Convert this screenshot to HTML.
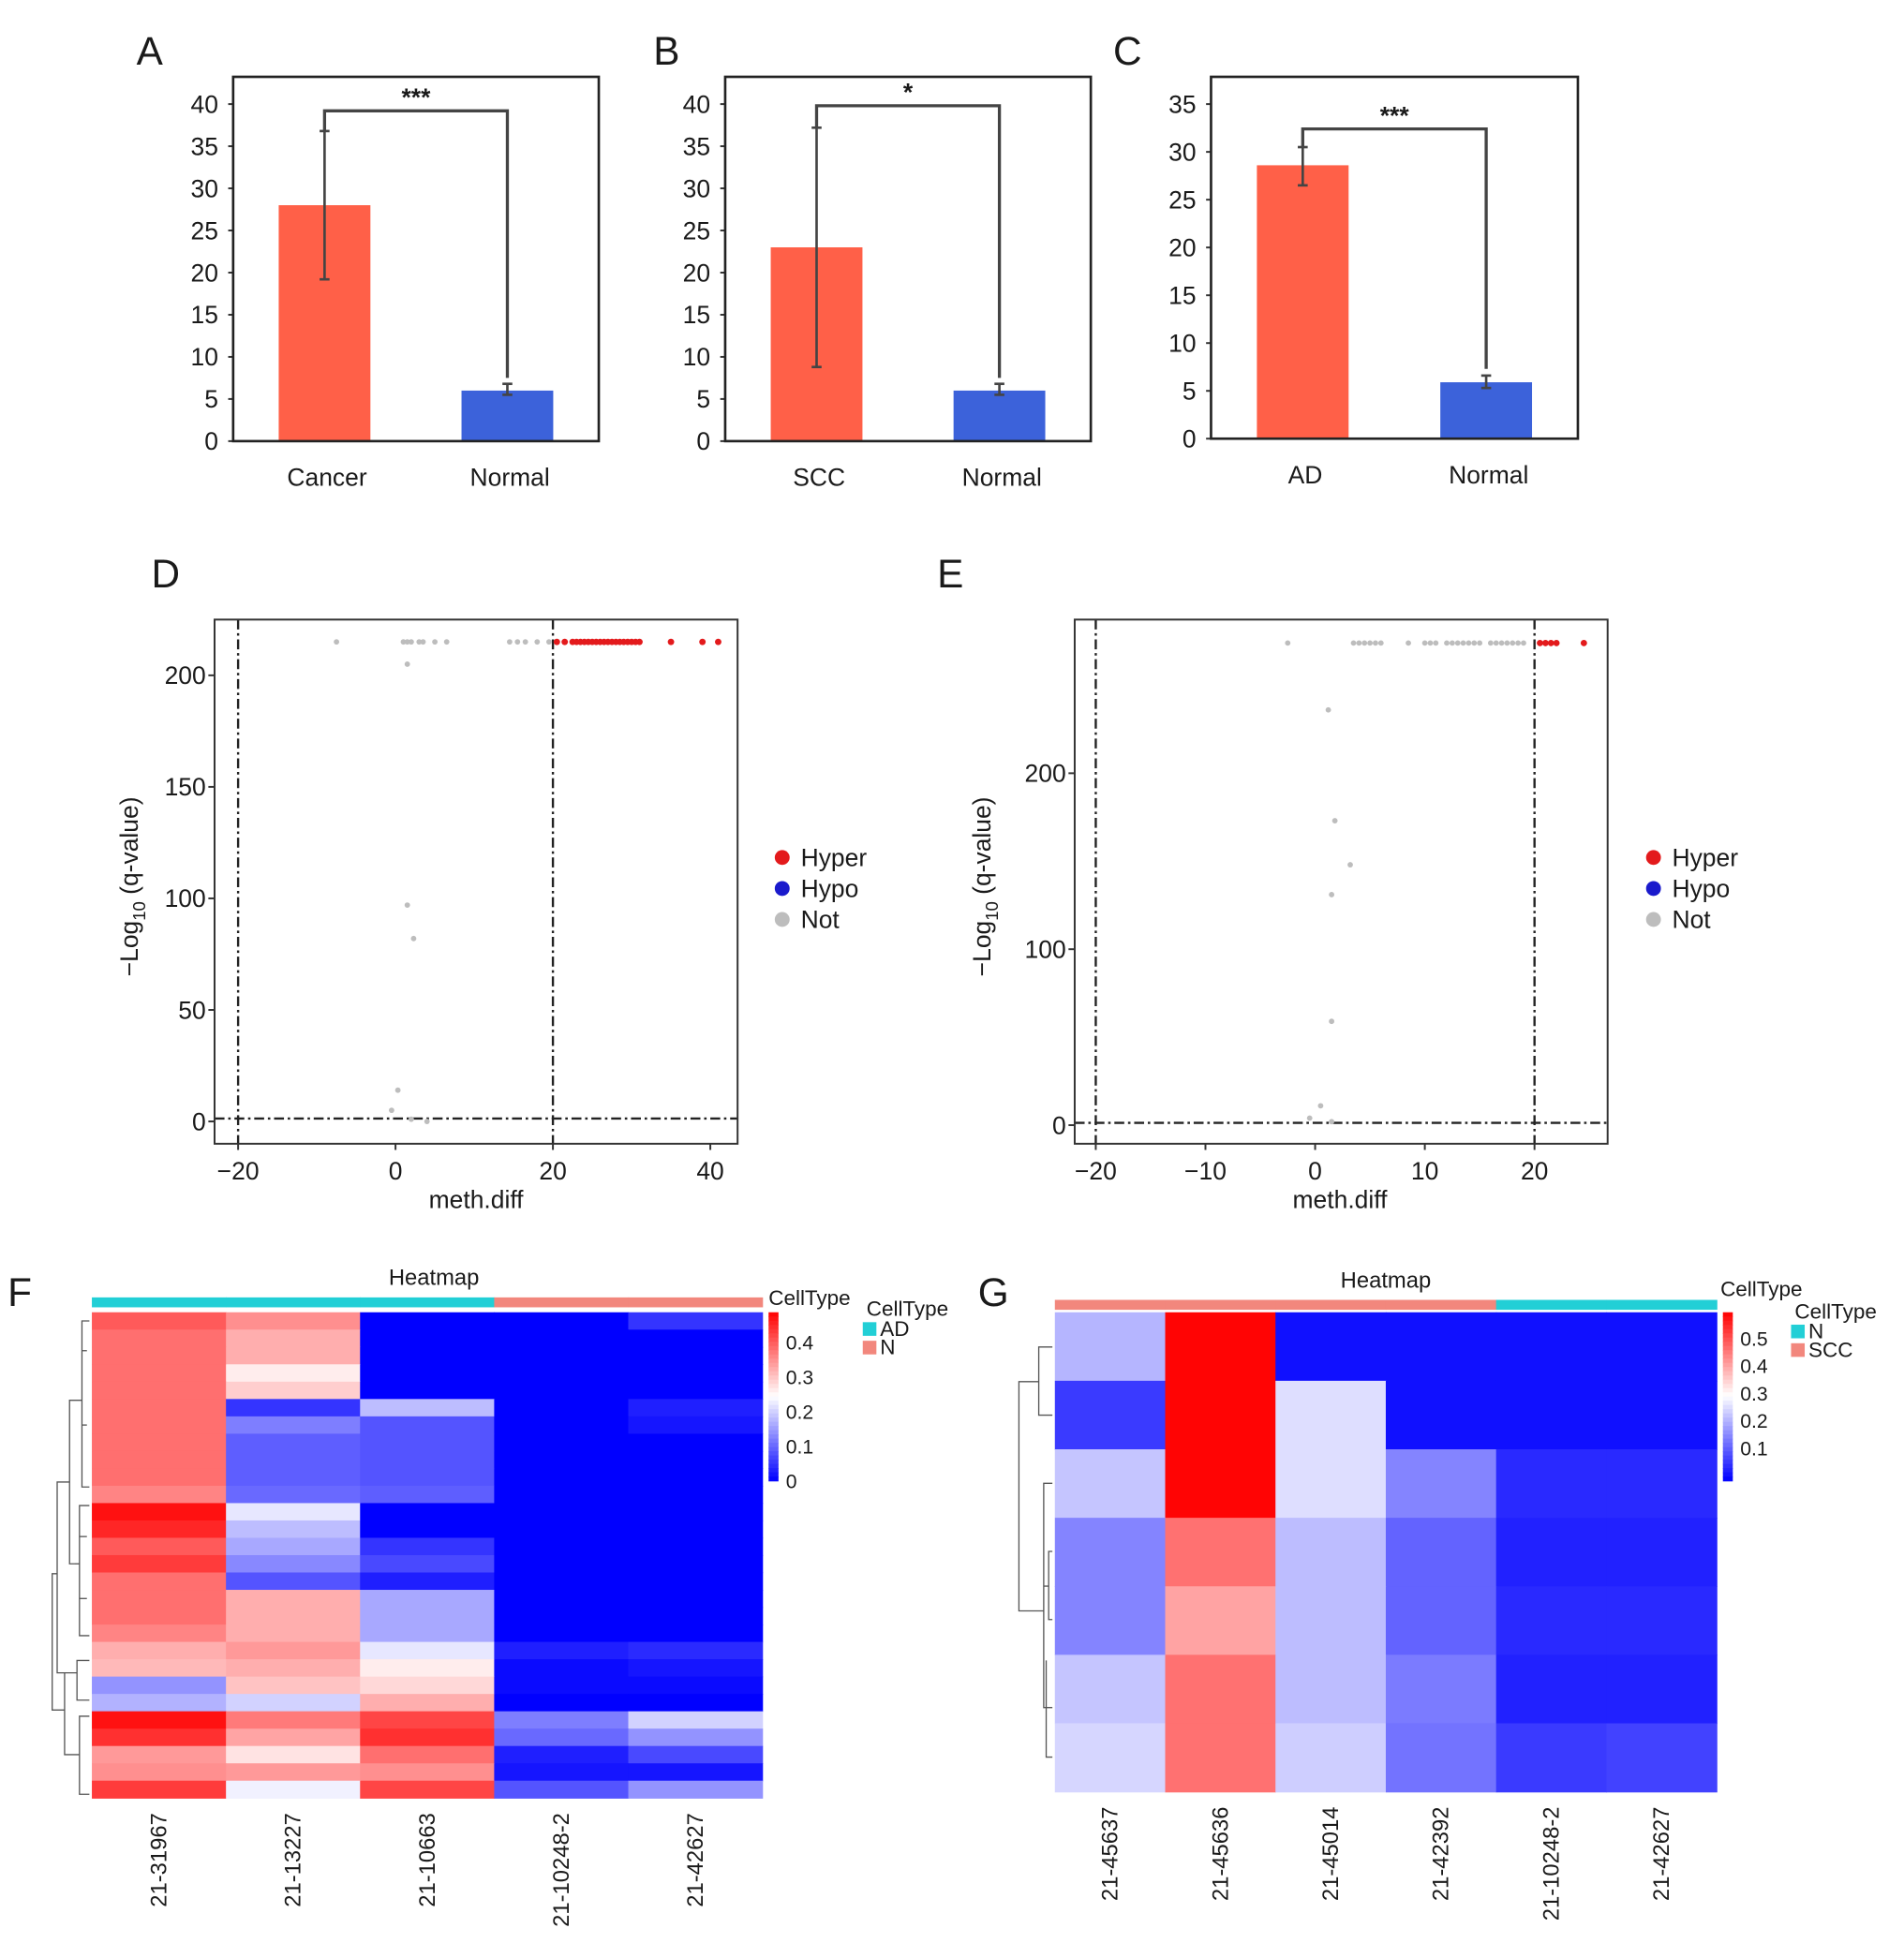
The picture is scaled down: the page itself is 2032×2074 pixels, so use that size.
<!DOCTYPE html>
<html><head><meta charset="utf-8"><style>
html,body{margin:0;padding:0;background:#fff;}
svg{display:block;font-family:"Liberation Sans",Arial,sans-serif;}
</style></head><body>
<svg id="fig" width="2032" height="2074" viewBox="0 0 1536 1568" xmlns="http://www.w3.org/2000/svg"></svg>
<script>
// ---------- data ----------
const barCatsA = ["Cancer","Normal"];
const barValsA = [28, 6];
const barErrLoA = [19.2, 5.5];
const barErrHiA = [36.8, 6.8];
const barCatsB = ["SCC","Normal"];
const barValsB = [23, 6];
const barErrLoB = [8.8, 5.5];
const barErrHiB = [37.2, 6.8];
const barCatsC = ["AD","Normal"];
const barValsC = [28.6, 5.9];
const barErrLoC = [26.5, 5.3];
const barErrHiC = [30.5, 6.6];
const ticksAB = [0,5,10,15,20,25,30,35,40];
const ticksC = [0,5,10,15,20,25,30,35];

const volDX = [-7.5,1,1.5,2,3,3.5,5,6.5,14.5,15.5,16.5,18,19.5,1.5,1.5,2.3,0.3,-0.5,2,4];
const volDY = [215,215,215,215,215,215,215,215,215,215,215,215,215,205,97,82,14,5,1,0];
const volDRedX = [20.5,21.5,22.5,23,23.5,24,24.5,25,25.5,26,26.5,27,27.5,28,28.5,29,29.5,30,30.5,31,35,39,41];
const volDRedY = [215,215,215,215,215,215,215,215,215,215,215,215,215,215,215,215,215,215,215,215,215,215,215];
const volDXTicks = [-20,0,20,40];
const volDYTicks = [0,50,100,150,200];

const volEX = [-2.5,3.5,4,4.5,5,5.5,6,8.5,10,10.5,11,12,12.5,13,13.5,14,14.5,15,16,16.5,17,17.5,18,18.5,19,1.2,1.8,3.2,1.5,1.5,0.5,-0.5,1.5];
const volEY = [274,274,274,274,274,274,274,274,274,274,274,274,274,274,274,274,274,274,274,274,274,274,274,274,274,236,173,148,131,59,11,4,2];
const volERedX = [20.5,21,21.5,22,24.5];
const volERedY = [274,274,274,274,274];
const volEXTicks = [-20,-10,0,10,20];
const volEYTicks = [0,100,200];

const heatFCols = ["21-31967","21-13227","21-10663","21-10248-2","21-42627"];
const heatFGroups = ["AD","AD","AD","N","N"];
const heatFVals = [
[0.40,0.35,0,0,0.05],[0.38,0.32,0,0,0],[0.38,0.32,0,0,0],[0.38,0.26,0,0,0],[0.38,0.29,0,0,0],
[0.38,0.05,0.18,0,0.03],[0.38,0.12,0.08,0,0.02],[0.38,0.09,0.08,0,0],[0.38,0.09,0.08,0,0],[0.38,0.09,0.08,0,0],
[0.36,0.10,0.09,0,0],[0.47,0.22,0,0,0],[0.45,0.18,0,0,0],[0.40,0.16,0.05,0,0],[0.43,0.13,0.07,0,0],
[0.38,0.08,0.03,0,0],[0.38,0.32,0.16,0,0],[0.38,0.32,0.16,0,0],[0.36,0.32,0.16,0,0],[0.32,0.34,0.22,0.03,0.04],
[0.31,0.32,0.26,0.01,0.02],[0.14,0.30,0.28,0.01,0.01],[0.17,0.20,0.32,0,0],[0.47,0.37,0.42,0.12,0.20],
[0.44,0.33,0.44,0.10,0.14],[0.34,0.27,0.38,0.03,0.07],[0.35,0.34,0.35,0.02,0.02],[0.43,0.23,0.42,0.08,0.14]];
const heatFTicks = [0,0.1,0.2,0.3,0.4];

const heatGCols = ["21-45637","21-45636","21-45014","21-42392","21-10248-2","21-42627"];
const heatGGroups = ["SCC","SCC","SCC","SCC","N","N"];
const heatGVals = [
[0.20,0.59,0,0,0,0],[0.05,0.59,0.25,0,0,0],[0.22,0.59,0.25,0.14,0.03,0.03],
[0.14,0.46,0.21,0.10,0.02,0.02],[0.14,0.40,0.21,0.10,0.03,0.03],[0.22,0.46,0.21,0.13,0.02,0.02],
[0.24,0.46,0.23,0.12,0.05,0.06]];
const heatGTicks = [0.1,0.2,0.3,0.4,0.5];

// ---------- helpers ----------
const svg = document.getElementById('fig');
const NS = "http://www.w3.org/2000/svg";
function mk(tag, attrs, parent){ const e=document.createElementNS(NS,tag); for(const k in attrs) e.setAttribute(k,attrs[k]); (parent||svg).appendChild(e); return e; }
function txt(x,y,s,size,anchor,parent,extra){ const t=mk('text',Object.assign({x:x,y:y,'font-size':size,'text-anchor':anchor||'start',fill:'#1a1a1a'},extra||{}),parent); t.textContent=s; return t; }
const RED="#FF6048", BLUE="#3C62DA", TEAL="#22CFD6", SALMON="#F2877D";

function letter(x,y,s){ const t=txt(x,y,s,32,'start');   }

function barPanel(id,L,R,T,B,ymax,ticks,cats,vals,lo,hi,brY,stars){
  const g=mk('g',{});
  
  
  const y0=B, yTop=84; const scale=(B-yTop)/ymax;
  const ys=v=>y0-v*scale;
  const centers=[L+(R-L)*0.25, L+(R-L)*0.75];
  const bw=74;
  vals.forEach((v,i)=>{
    const r=mk('rect',{x:centers[i]-bw/2,y:ys(v),width:bw,height:ys(0)-ys(v),fill:i===0?RED:BLUE},g);
    
    
    const e=mk('g',{stroke:'#444','stroke-width':2},g);
    
    
    mk('line',{x1:centers[i],x2:centers[i],y1:ys(lo[i]),y2:ys(hi[i])},e);
    mk('line',{x1:centers[i]-4,x2:centers[i]+4,y1:ys(lo[i]),y2:ys(lo[i])},e);
    mk('line',{x1:centers[i]-4,x2:centers[i]+4,y1:ys(hi[i]),y2:ys(hi[i])},e);
    const lab=txt(centers[i]+2,B+36,cats[i],20,'middle',g);
    
    
  });
  const br=mk('polyline',{points:`${centers[0]},${ys(hi[0])} ${centers[0]},${ys(brY)} ${centers[1]},${ys(brY)} ${centers[1]},${ys(hi[1]+0.7)}`,fill:'none',stroke:'#444','stroke-width':2.5},g);
  
  
  const st=txt((centers[0]+centers[1])/2,ys(brY)-4,stars,20,'middle',g,{'font-weight':'bold'});
  
  
  ticks.forEach(t=>{
    mk('line',{x1:L-4,x2:L,y1:ys(t),y2:ys(t),stroke:'#333','stroke-width':1.5},g);
    const tl=txt(L-12,ys(t)+7,String(t),20,'end',g);
    
    
  });
  const fr=mk('rect',{x:L,y:T,width:R-L,height:B-T,fill:'none',stroke:'#222','stroke-width':2},g);
  
  
}

letter(110,52,'A'); letter(527,52,'B'); letter(898,52,'C');
barPanel('a',188,483,62,356,40,ticksAB,barCatsA,barValsA,barErrLoA,barErrHiA,39.2,'***');
barPanel('b',585,880,62,356,40,ticksAB,barCatsB,barValsB,barErrLoB,barErrHiB,39.8,'*');
barPanel('c',977,1273,62,354,35,ticksC,barCatsC,barValsC,barErrLoC,barErrHiC,32.4,'***');

function volcano(id,L,R,T,B,xs,ys,xT,yT,gx,gy,rx,ry,legX){
  const g=mk('g',{});
  
  
  const dash={stroke:'#222','stroke-width':1.8,'stroke-dasharray':'8,3,2,3',fill:'none'};
  [-20,20].forEach(v=>{ const l=mk('line',Object.assign({x1:xs(v),x2:xs(v),y1:T,y2:B},dash),g);   });
  const h=mk('line',Object.assign({x1:L,x2:R,y1:ys(1.3),y2:ys(1.3)},dash),g);
   
  gx.forEach((x,i)=>{ const c=mk('circle',{cx:xs(x),cy:ys(gy[i]),r:2.2,fill:'#BDBDBD'},g);   });
  rx.forEach((x,i)=>{ const c=mk('circle',{cx:xs(x),cy:ys(ry[i]),r:2.6,fill:'#E31A1C'},g);   });
  const fr=mk('rect',{x:L,y:T,width:R-L,height:B-T,fill:'none',stroke:'#333','stroke-width':1.5},g);
   
  xT.forEach(t=>{ mk('line',{x1:xs(t),x2:xs(t),y1:B,y2:B+5,stroke:'#333','stroke-width':1.5},g);
    const tl=txt(xs(t),B+29,t<0?'\u2212'+(-t):String(t),20,'middle',g);   });
  yT.forEach(t=>{ mk('line',{x1:L-5,x2:L,y1:ys(t),y2:ys(t),stroke:'#333','stroke-width':1.5},g);
    const tl=txt(L-7,ys(t)+7,String(t),20,'end',g);   });
  const xt=txt((L+R)/2-(id==='d'?0:1),B+52,'meth.diff',20,'middle',g);  
  const yx=L-(id==='d'?62:68), yc=(T+B)/2+4;
  const yt=mk('text',{x:yx,y:yc,'font-size':20,'text-anchor':'middle',fill:'#1a1a1a',transform:`rotate(-90 ${yx} ${yc})`},g);
  yt.innerHTML='\u2212Log<tspan font-size="14" dy="6">10</tspan><tspan dy="-6"> (q-value)</tspan>';
   
  const lg=mk('g',{},g);  
  [['Hyper','#E31A1C'],['Hypo','#1A1ACC'],['Not','#BDBDBD']].forEach((e,i)=>{
    const eg=mk('g',{},lg);  
    mk('circle',{cx:legX,cy:692+i*25,r:6,fill:e[1]},eg);
    txt(legX+15,699+i*25,e[0],20,'start',eg);
  });
}
letter(122,474,'D'); letter(756,474,'E');
volcano('d',173,595,500,923,v=>319+v*6.35,v=>905-v*1.8,volDXTicks,volDYTicks,volDX,volDY,volDRedX,volDRedY,631);
volcano('e',867,1297,500,923,v=>1061+v*8.85,v=>908-v*1.42,volEXTicks,volEYTicks,volEX,volEY,volERedX,volERedY,1334);

function cmap(v,lo,mid,hi){
  let r,g,b;
  if(v<=mid){ const t=Math.max(0,(v-lo)/(mid-lo)); r=Math.round(255*t); g=Math.round(255*t); b=255; }
  else { const t=Math.min(1,(v-mid)/(hi-mid)); r=255; g=Math.round(255*(1-t)); b=Math.round(255*(1-t)); }
  return `rgb(${r},${g},${b})`;
}

function heatmap(id,L,R,T,B,cols,groups,vals,lo,mid,hi,ticks,annY,cbX,title,titleX,legItems,legX,legY,ctX,ctY){
  const g=mk('g',{});  
  const cw=(R-L)/cols.length, rh=(B-T)/vals.length;
  vals.forEach((row,ri)=>row.forEach((v,ci)=>{
    const c=mk('rect',{x:L+ci*cw,y:T+ri*rh,width:cw+0.5,height:rh+0.5,fill:cmap(v,lo,mid,hi)},g);
     
  }));
  groups.forEach((gr,ci)=>{ const a=mk('rect',{x:L+ci*cw,y:annY,width:cw+0.5,height:8,fill:(gr==='N'&&id==='f')||(gr==='SCC')?SALMON:TEAL},g);
      });
  const tt=txt(titleX,annY-10,title,18,'middle',g);  
  cols.forEach((c,ci)=>{ const cx=L+ci*cw+cw/2+6, cy=B+12;
    const t=mk('text',{x:cx,y:cy,'font-size':18,'text-anchor':'end',fill:'#1a1a1a',transform:`rotate(-90 ${cx} ${cy})`},g);
    t.textContent=c;   });
  // colorbar
  const cb=mk('g',{},g);  
  const cT=1059,cB=1195,n=40;
  for(let i=0;i<n;i++){ const v=hi-(hi-lo)*(i+0.5)/n; mk('rect',{x:cbX,y:cT+i*(cB-cT)/n,width:8,height:(cB-cT)/n+0.5,fill:cmap(v,lo,mid,hi)},cb); }
  ticks.forEach(t=>{ const y=cB-(t-lo)/(hi-lo)*(cB-cT); const tl=txt(cbX+14,y+6,String(t),16,'start',cb);   });
  const c1=txt(ctX,ctY,'CellType',17,'start',g);  
  const lg=mk('g',{},g);  
  txt(legX+3,legY,'CellType',17,'start',lg);
  legItems.forEach((it,i)=>{ const e=mk('g',{},lg);  
    mk('rect',{x:legX,y:legY+5+i*15,width:11,height:11,fill:it[1]},e); txt(legX+14,legY+16+i*15,it[0],17,'start',e); });
}
letter(6,1054,'F'); letter(789,1054,'G');
heatmap('f',74,615,1059,1451,heatFCols,heatFGroups,heatFVals,0,0.243,0.486,heatFTicks,1047,620,'Heatmap',350,[['AD',TEAL],['N',SALMON]],696,1062,620,1053);
heatmap('g',851,1385,1059,1446,heatGCols,heatGGroups,heatGVals,-0.02,0.29,0.595,heatGTicks,1049,1390,'Heatmap',1118,[['N',TEAL],['SCC',SALMON]],1445,1064,1388,1046);

// dendrograms
function dend(id,lines){
  const g=mk('g',{fill:'none',stroke:'#555','stroke-width':1});  
  lines.forEach(p=>mk('polyline',{points:p},g));
}
dend('f',["72,1066 66,1066 66,1200 72,1200","66,1130 56,1130 56,1262 60,1262","72,1215 64,1215 64,1320 72,1320","64,1262 60,1262","72,1340 62,1340 62,1372 72,1372","56,1196 46,1196 46,1350 62,1350","72,1385 64,1385 64,1448 72,1448","64,1416 52,1416 52,1350","46,1270 42,1270 42,1380 52,1380","70,1090 66,1090","70,1150 66,1150","70,1240 64,1240","70,1290 64,1290"]);
dend('g',["849,1087 838,1087 838,1142 849,1142","838,1115 822,1115 822,1300 842,1300","849,1197 842,1197 842,1378 849,1378","849,1252 846,1252 846,1307 849,1307","846,1280 842,1280","849,1418 844,1418 844,1340"]);
</script>
</body></html>
